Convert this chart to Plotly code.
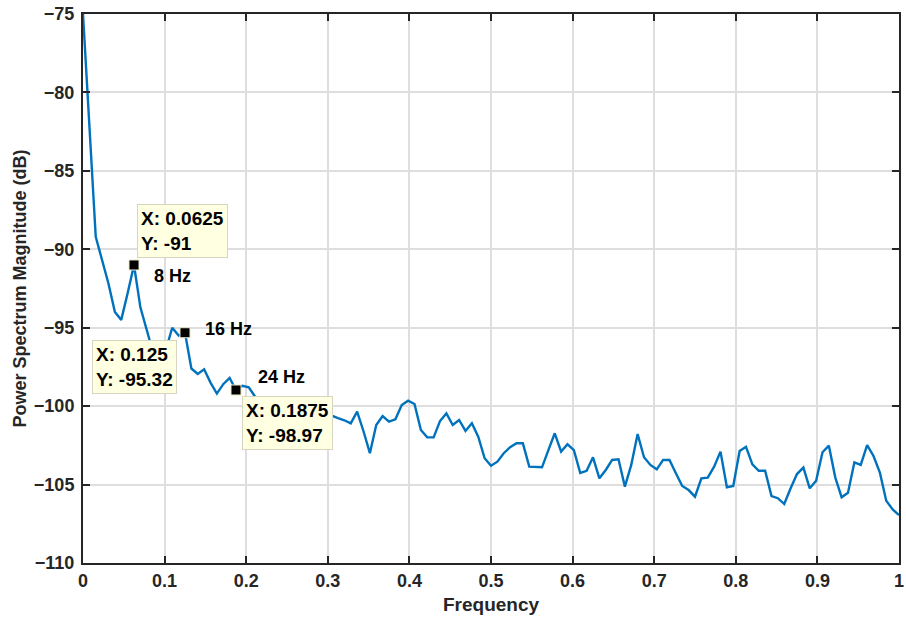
import numpy as np
import plotly.graph_objects as go

# Frequency bins (normalized, 0..1 in steps of 1/128)
freq = np.linspace(0, 1, 129)

# Power spectrum magnitude (dB)
psd_db = [
    -75.0, -82.0, -89.2, -90.7, -92.2, -94.0, -94.5, -92.8, -91.0, -93.7,
    -95.2, -96.6, -97.3, -96.4, -95.0, -95.5, -95.32, -97.6, -97.95, -97.65,
    -98.5, -99.2, -98.6, -98.2, -98.97, -98.7, -98.8, -99.4, -100.2, -100.6,
    -100.0, -99.5, -100.3, -101.0, -100.6, -101.4, -100.9, -100.5, -100.8, -100.6,
    -100.76, -100.9, -101.1, -100.35, -101.6, -103.0, -101.2, -100.63, -100.99, -100.84,
    -99.93, -99.65, -99.86, -101.52, -101.99, -101.99, -100.95, -100.46, -101.2, -100.88,
    -101.58, -101.09, -101.95, -103.32, -103.8, -103.54, -103.0, -102.62, -102.37, -102.37,
    -103.86, -103.88, -103.9, -102.8, -101.73, -102.9, -102.43, -102.8, -104.26, -104.12,
    -103.26, -104.6, -104.07, -103.43, -103.39, -105.13, -103.75, -101.78, -103.26, -103.75,
    -104.03, -103.43, -103.43, -104.28, -105.09, -105.35, -105.77, -104.6, -104.56, -103.86,
    -102.9, -105.17, -105.09, -102.86, -102.59, -103.71, -104.12, -104.12, -105.73, -105.87,
    -106.24, -105.24, -104.33, -103.92, -105.24, -104.75, -102.94, -102.52, -104.54, -105.81,
    -105.52, -103.58, -103.75, -102.48, -103.18, -104.24, -106.03, -106.58, -106.94,
]

# Data tips
tip_x = [0.0625, 0.125, 0.1875]
tip_y = [-91, -95.32, -98.97]
tip_text = ["X: 0.0625<br>Y: -91", "X: 0.125<br>Y: -95.32", "X: 0.1875<br>Y: -98.97"]
peak_labels = ["8 Hz", "16 Hz", "24 Hz"]

x_ticks = [0, 0.1, 0.2, 0.3, 0.4, 0.5, 0.6, 0.7, 0.8, 0.9, 1]
x_tick_text = ["0", "0.1", "0.2", "0.3", "0.4", "0.5", "0.6", "0.7", "0.8", "0.9", "1"]
y_ticks = [-110, -105, -100, -95, -90, -85, -80, -75]

FONT = "Liberation Sans, Arial, Helvetica, sans-serif"
AXC = "#262626"
FS = 19

fig = go.Figure()
fig.add_trace(go.Scatter(
    x=freq, y=psd_db, mode="lines",
    line=dict(color="#0072BD", width=2.4),
    showlegend=False, hoverinfo="skip",
))
fig.add_trace(go.Scatter(
    x=tip_x, y=tip_y, mode="markers",
    marker=dict(symbol="square", size=10, color="black",
                line=dict(color="#E8E8C8", width=1)),
    showlegend=False, hoverinfo="skip",
))

# datatip boxes: (xanchor, yanchor, xshift, yshift)
box_pos = [("left", "top", 3, 61), ("right", "top", -8, -7), ("left", "top", 6, -6)]
for xv, yv, txt, (xa, ya, xs, ys) in zip(tip_x, tip_y, tip_text, box_pos):
    fig.add_annotation(
        x=xv, y=yv, xref="x", yref="y", text=txt, showarrow=False,
        xanchor=xa, yanchor=ya, xshift=xs, yshift=ys, align="left",
        font=dict(family=FONT, size=FS, color="black", weight="bold"),
        bgcolor="#FFFFE1", bordercolor="#D6D6C0", borderwidth=1, borderpad=3,
    )

label_pos = [(18, -11), (18, 4), (20, 13)]
for xv, yv, lab, (xs, ys) in zip(tip_x, tip_y, peak_labels, label_pos):
    fig.add_annotation(
        x=xv, y=yv, xref="x", yref="y", text=lab, showarrow=False,
        xanchor="left", yanchor="middle", xshift=xs, yshift=ys,
        font=dict(family=FONT, size=FS - 1, color="black", weight="bold"),
    )

axis_common = dict(
    showline=True, linecolor=AXC, linewidth=2, mirror="ticks",
    ticks="inside", ticklen=7, tickwidth=2, tickcolor=AXC,
    showgrid=True, gridcolor="#DEDEDE", gridwidth=2,
    zeroline=False, automargin=False, ticklabeloverflow="allow",
    tickfont=dict(family=FONT, size=FS - 1, color=AXC, weight="bold"),
)

fig.update_xaxes(
    range=[0, 1], tickvals=x_ticks, ticktext=x_tick_text,
    title=dict(text="Frequency", standoff=8,
               font=dict(family=FONT, size=FS, color=AXC, weight="bold")),
    **axis_common,
)
fig.update_yaxes(
    range=[-110, -75], tickvals=y_ticks, ticklabelstandoff=3,
    title=dict(text="Power Spectrum Magnitude (dB)", standoff=3,
               font=dict(family=FONT, size=FS - 1, color=AXC, weight="bold")),
    **axis_common,
)

fig.update_layout(
    width=906, height=621,
    margin=dict(l=83, r=7, t=14, b=58),
    plot_bgcolor="white", paper_bgcolor="white",
)

fig.write_html("out.html")
